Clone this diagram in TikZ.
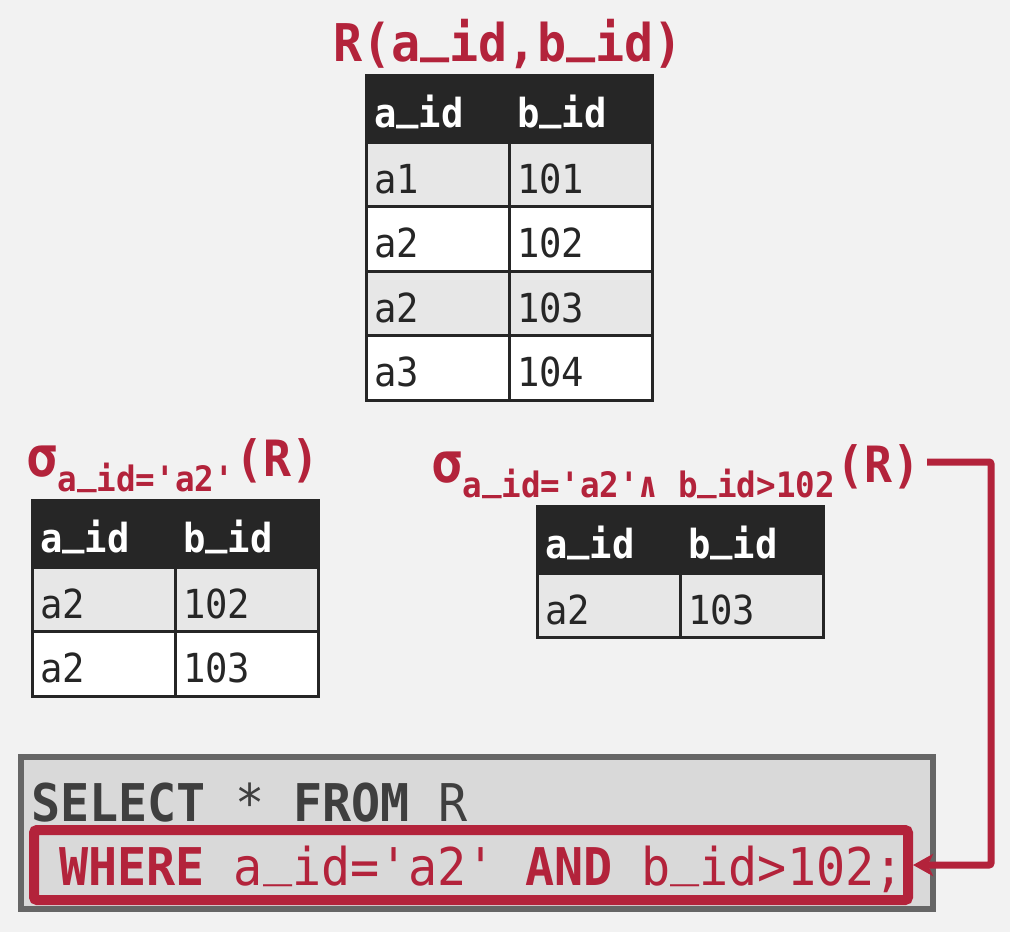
\documentclass[tikz,border=0pt]{standalone}
\usepackage{fontspec}
\setmonofont[FakeStretch=0.93]{DejaVu Sans Mono}
\usepackage{tikz}
\usetikzlibrary{positioning}
\usetikzlibrary{calc}
\usetikzlibrary{arrows.meta}

\definecolor{crim}{HTML}{B3233B}
\definecolor{tabline}{HTML}{262626}
\definecolor{rowgray}{HTML}{E7E7E7}
\definecolor{bggray}{HTML}{F2F2F2}
\definecolor{boxgray}{HTML}{D9D9D9}
\definecolor{boxline}{HTML}{666666}
\definecolor{sqlgray}{HTML}{3F3F3F}

\newcommand{\cellfont}{\ttfamily\fontsize{40}{44}\selectfont}
\newcommand{\hdrfont}{\ttfamily\bfseries\fontsize{40}{44}\selectfont}
\newcommand{\titlefont}{\ttfamily\bfseries\fontsize{52}{56}\selectfont}
\newcommand{\sigfont}{\ttfamily\bfseries\fontsize{50}{54}\selectfont}
\newcommand{\sigmafont}{\ttfamily\bfseries\fontsize{56}{60}\selectfont}
\newcommand{\subfont}{\ttfamily\bfseries\fontsize{35}{38}\selectfont}
\newcommand{\sqlfont}{\ttfamily\fontsize{52}{56}\selectfont}
\newcommand{\us}{\raisebox{0.2em}{\_}}
\newcommand{\selR}[1]{{\sigmafont σ}\raisebox{-15pt}{\subfont #1}\hspace{2pt}{\sigfont(R)}}

\tikzstyle{cell} = [draw = tabline, line width = 3pt, outer sep = 0pt, inner xsep = 8pt, inner ysep = 0pt, text width = 127pt, align = left, minimum height = 64.5pt, text height = 38pt, text depth = 0pt, font = \cellfont, text = tabline]
\tikzstyle{hdr} = [cell, fill = tabline, text = white, font = \hdrfont, minimum height = 67pt]
\tikzstyle{odd} = [cell, fill = rowgray]
\tikzstyle{even} = [cell, fill = white]
\tikzstyle{label} = [inner sep = 0pt, text = crim]
\tikzstyle{arrow} = [line width = 7pt, draw = crim, rounded corners = 2pt, -{Stealth[length = 20pt, width = 22pt, inset = 5pt]}]

\begin{document}
\begin{tikzpicture}[x = 1pt, y = -1pt]

		\fill[bggray] (0,0) rectangle (1010,932);
		\useasboundingbox (0,0) rectangle (1010,932);

		% Table R
		\node[label, anchor = base, font = \titlefont] (rtitle) at (508,61) {R(a\us id,b\us id)};
		\node[hdr, anchor = north west] (ra) at (366,75) {a\us id};
		\node[hdr, right = 0pt of ra] (rb) {b\us id};
		\node[odd, below = 0pt of ra] (ra1) {a1};
		\node[odd, right = 0pt of ra1] (rb1) {101};
		\node[even, below = 0pt of ra1] (ra2) {a2};
		\node[even, right = 0pt of ra2] (rb2) {102};
		\node[odd, below = 0pt of ra2] (ra3) {a2};
		\node[odd, right = 0pt of ra3] (rb3) {103};
		\node[even, below = 0pt of ra3] (ra4) {a3};
		\node[even, right = 0pt of ra4] (rb4) {104};

		% Selection on a_id
		\node[label, anchor = base west] (lsel) at (26,476) {\selR{a\us id='a2'}};
		\node[hdr, anchor = north west] (la) at (32,500) {a\us id};
		\node[hdr, right = 0pt of la] (lb) {b\us id};
		\node[odd, below = 0pt of la] (la1) {a2};
		\node[odd, right = 0pt of la1] (lb1) {102};
		\node[even, below = 0pt of la1] (la2) {a2};
		\node[even, right = 0pt of la2] (lb2) {103};

		% Selection on a_id and b_id
		\node[label, anchor = base west] (rsel) at (431,482) {\selR{a\us id='a2'∧ b\us id>102}};
		\node[hdr, anchor = north west] (sa) at (537,506) {a\us id};
		\node[hdr, right = 0pt of sa] (sb) {b\us id};
		\node[odd, below = 0pt of sa] (sa1) {a2};
		\node[odd, right = 0pt of sa1] (sb1) {103};

		% SQL query
		\node[draw = boxline, fill = boxgray, line width = 6pt, outer sep = 0pt, minimum width = 912pt, minimum height = 152pt, anchor = north west] (sql) at (21,757) {};
		\node[anchor = base west, inner sep = 0pt, font = \sqlfont, text = sqlgray] (select) at (31,821) {\textbf{SELECT} * \textbf{FROM} R};
		\node[draw = crim, line width = 10pt, rounded corners = 3pt, minimum width = 874pt, minimum height = 70pt, anchor = north west] (where) at (29,825) {};
		\node[anchor = base west, inner sep = 0pt, font = \sqlfont, text = crim] (wheretext) at (59,885) {\textbf{WHERE} a\us id='a2' \textbf{AND} b\us id>102;};

		% Link the predicate to the query
		\coordinate (rselout) at ($(rsel.base east) + (6,-20)$);
		\coordinate (corner) at (991,865);
		\draw[arrow] (rselout) -| (corner) -- (where.east);

	\end{tikzpicture}
\end{document}
